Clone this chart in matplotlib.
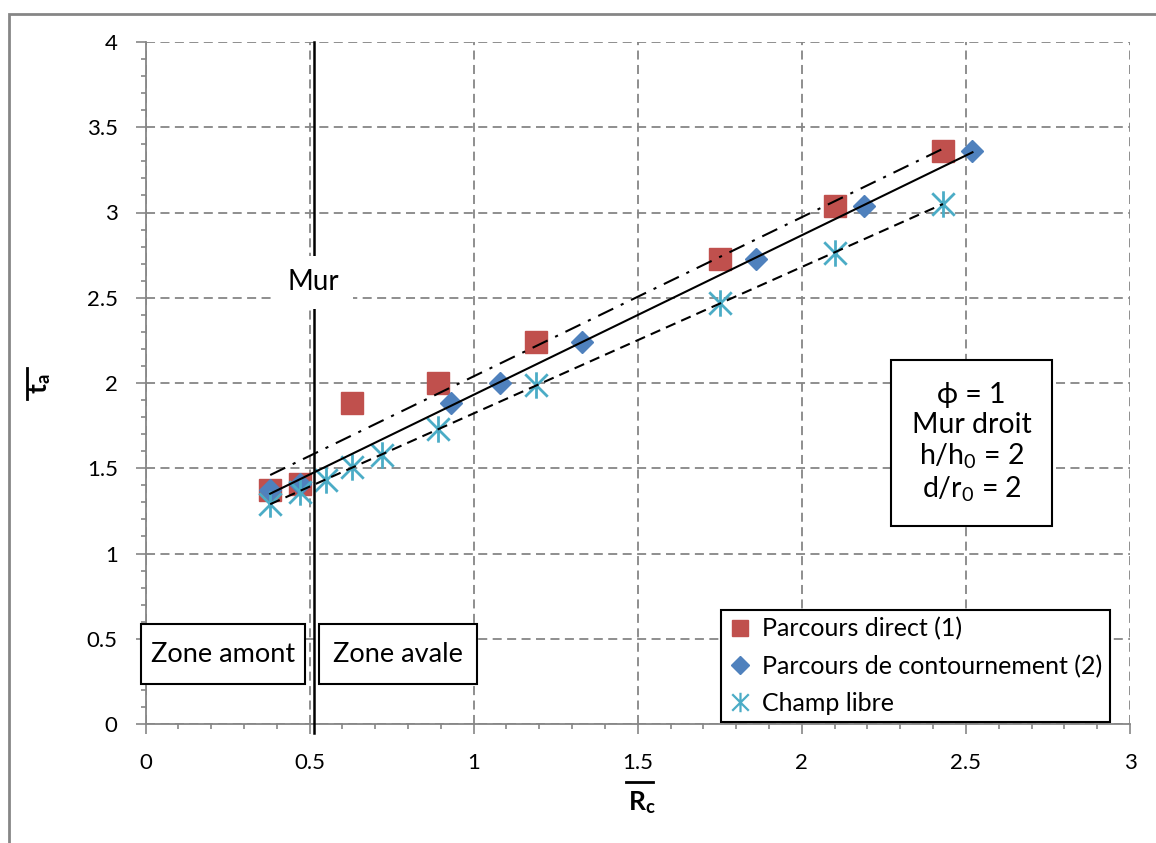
import numpy as np
import matplotlib
matplotlib.use("Agg")
import matplotlib.pyplot as plt
from matplotlib.lines import Line2D
from matplotlib.patches import Rectangle
from matplotlib.path import Path

# ---------------- data ----------------
direct_x = [0.38, 0.47, 0.63, 0.89, 1.19, 1.75, 2.10, 2.43]
direct_y = [1.37, 1.41, 1.88, 2.00, 2.24, 2.73, 3.04, 3.36]
contour_x = [0.38, 0.47, 0.93, 1.08, 1.33, 1.86, 2.19, 2.52]
contour_y = [1.37, 1.41, 1.88, 2.00, 2.24, 2.73, 3.04, 3.36]
libre_x = [0.38, 0.47, 0.55, 0.63, 0.72, 0.89, 1.19, 1.75, 2.10, 2.43]
libre_y = [1.29, 1.36, 1.43, 1.51, 1.58, 1.73, 1.99, 2.47, 2.76, 3.05]
wall_x = 0.512
series_labels = ["Parcours direct (1)", "Parcours de contournement (2)", "Champ libre"]
xticks = [0, 0.5, 1, 1.5, 2, 2.5, 3]
xticklabels = ["0", "0.5", "1", "1.5", "2", "2.5", "3"]
yticks = [0, 0.5, 1, 1.5, 2, 2.5, 3, 3.5, 4]
yticklabels = ["0", "0.5", "1", "1.5", "2", "2.5", "3", "3.5", "4"]

# ---------------- style ----------------
plt.rcParams['font.family'] = ['Lato', 'DejaVu Sans']
plt.rcParams['mathtext.fontset'] = 'custom'
plt.rcParams['mathtext.rm'] = 'Lato'
plt.rcParams['mathtext.it'] = 'Lato:italic'
plt.rcParams['mathtext.bf'] = 'Lato:bold'

RED = '#C0504D'
BLUE = '#4F81BD'
CYAN = '#4BACC6'
GRID = '#868686'

W, H = 1156, 843
fig = plt.figure(figsize=(W / 100, H / 100), dpi=100)


def fx(x):
    return x / W


def fy(y):
    return 1 - y / H


ax = fig.add_axes([fx(145.5), fy(724), fx(1130) - fx(145.5), fy(42) - fy(724)])

star = Path([(0, -1), (0, 1), (-0.85, -0.85), (0.85, 0.85), (-0.85, 0.85), (0.85, -0.85)],
            [Path.MOVETO, Path.LINETO, Path.MOVETO, Path.LINETO, Path.MOVETO, Path.LINETO])

# trend lines (linear fits of each series)
for xs, ys, ls in [(direct_x, direct_y, (0, (8, 4, 1.5, 4))),
                   (contour_x, contour_y, '-'),
                   (libre_x, libre_y, (0, (5, 3)))]:
    a, b = np.polyfit(xs, ys, 1)
    xx = np.array([min(xs), max(xs)])
    ax.plot(xx, a * xx + b, color='black', lw=1.5, linestyle=ls, zorder=4)

ax.plot(direct_x, direct_y, linestyle='none', marker='s', ms=15.5, color=RED,
        markeredgecolor=RED, zorder=3)
ax.plot(contour_x, contour_y, linestyle='none', marker='D', ms=11.5, color=BLUE,
        markeredgecolor=BLUE, zorder=3)
ax.plot(libre_x, libre_y, linestyle='none', marker=star, ms=19, color=CYAN,
        markeredgecolor=CYAN, markeredgewidth=2, zorder=3)

# wall line
ax.axvline(wall_x, ymin=-0.013, ymax=1.0, color='black', lw=1.8, clip_on=False, zorder=5)

ax.set_xlim(0, 3)
ax.set_ylim(0, 4)
ax.set_xticks(xticks)
ax.set_xticklabels(xticklabels)
ax.set_yticks(yticks)
ax.set_yticklabels(yticklabels)
ax.set_xticks(np.arange(0, 3.01, 0.1), minor=True)
ax.set_yticks(np.arange(0, 4.01, 0.1), minor=True)
ax.tick_params(which='major', direction='out', length=7, width=1.2, color=GRID,
               labelsize=16)
ax.tick_params(axis='x', which='major', pad=14)
ax.tick_params(axis='y', which='major', pad=13)
ax.tick_params(which='minor', direction='out', length=3.5, width=1.2, color=GRID)
ax.grid(which='major', color=GRID, linestyle=(0, (5, 3)), linewidth=1.3)
for s in ['top', 'right']:
    ax.spines[s].set_visible(False)
for s in ['left', 'bottom']:
    ax.spines[s].set_color(GRID)
    ax.spines[s].set_linewidth(1.3)
ax.set_axisbelow(True)

# axis labels with overlines
fig.text(fx(642), fy(803), r'$\mathbf{R}_{\mathbf{c}}$', fontsize=19, ha='center', va='center')
fig.add_artist(Line2D([fx(626), fx(653)], [fy(782), fy(782)], color='black', lw=2))
fig.text(fx(40), fy(384), r'$\mathbf{t}_{\mathbf{a}}$', fontsize=19, ha='center', va='center',
         rotation=90)
fig.add_artist(Line2D([fx(27), fx(27)], [fy(368), fy(399)], color='black', lw=2))

# "Mur" label
ax.text(wall_x, 2.59, "Mur", fontsize=20, ha='center', va='center', zorder=6,
        bbox=dict(facecolor='white', edgecolor='none', boxstyle='square,pad=0.5'))


def boxed(x0, y0, x1, y1, text, size, lw=1.5, ls=1.2):
    fig.add_artist(Rectangle((fx(x0), fy(y1)), fx(x1) - fx(x0), fy(y0) - fy(y1),
                             transform=fig.transFigure, facecolor='white',
                             edgecolor='black', lw=lw, zorder=10))
    fig.text(fx((x0 + x1) / 2), fy((y0 + y1) / 2), text, fontsize=size, ha='center',
             va='center', zorder=11, linespacing=ls)


boxed(141, 624, 305, 684, "Zone amont", 19.5)
boxed(319, 624, 477, 684, "Zone avale", 19.5)
boxed(891, 360, 1052, 526,
      "\u03d5 = 1\nMur droit\nh/h$_0$ = 2\nd/r$_0$ = 2", 20.5, ls=1.15)

# legend
handles = [Line2D([], [], linestyle='none', marker='s', ms=12, color=RED),
           Line2D([], [], linestyle='none', marker='D', ms=9, color=BLUE),
           Line2D([], [], linestyle='none', marker=star, ms=14, color=CYAN, markeredgewidth=1.6)]
leg = ax.legend(handles, series_labels, loc='upper left',
                bbox_to_anchor=(fx(721), fy(610)), bbox_transform=fig.transFigure,
                fontsize=18, frameon=True, fancybox=False, edgecolor='black',
                framealpha=1, borderpad=0.3, handlelength=0.9, handletextpad=0.45,
                labelspacing=0.55, borderaxespad=0)
leg.get_frame().set_linewidth(1.5)
leg.set_zorder(12)

# outer chart border
fig.add_artist(Rectangle((fx(9), -0.2), 2, fy(14) + 0.2, transform=fig.transFigure,
                         fill=False, edgecolor=GRID, lw=2))

fig.savefig('out.png', dpi=100)
